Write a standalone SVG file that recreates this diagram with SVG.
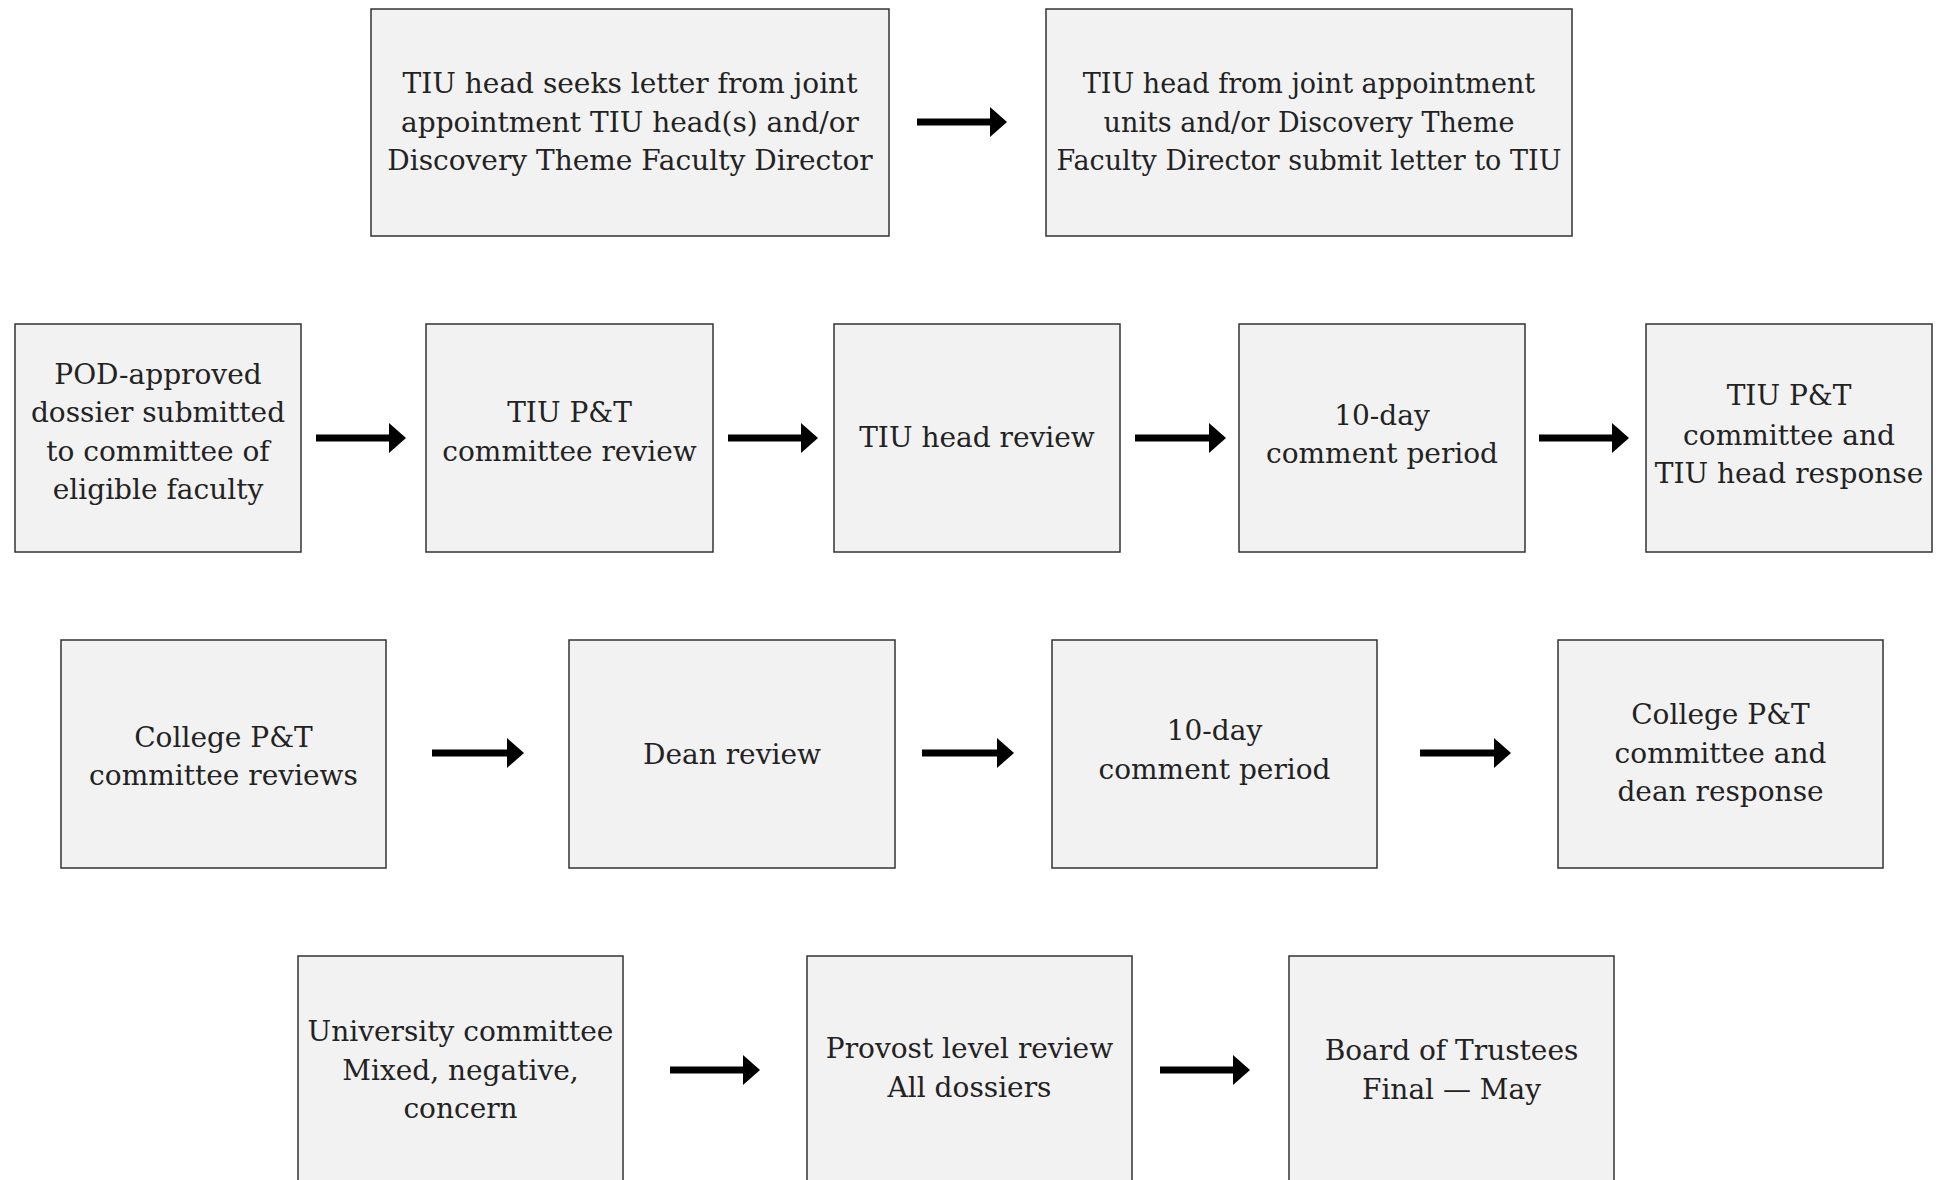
<svg xmlns="http://www.w3.org/2000/svg" width="1941" height="1180" viewBox="0 0 1941 1180">
<style>
.box{fill:#f2f2f2;stroke:#333333;stroke-width:1.5}
.t{font-family:"DejaVu Serif","Liberation Serif",serif;font-size:28px;fill:#222222;text-anchor:middle}
.s{font-size:27px}
.c{stroke:#000000;stroke-width:7;fill:none}
</style>
<defs>
<marker id="ah" markerUnits="userSpaceOnUse" markerWidth="17" markerHeight="30" viewBox="0 0 17 30" refX="0" refY="15" orient="auto">
<path d="M0,0 L17,15 L0,30 Z" fill="#000000"/>
</marker>
</defs>
<rect width="1941" height="1180" fill="#ffffff"/>
<g id="connectors">
<line class="c" x1="917" y1="122" x2="990" y2="122" marker-end="url(#ah)"/>
<line class="c" x1="316" y1="438" x2="389" y2="438" marker-end="url(#ah)"/>
<line class="c" x1="728" y1="438" x2="801" y2="438" marker-end="url(#ah)"/>
<line class="c" x1="1135" y1="438" x2="1209" y2="438" marker-end="url(#ah)"/>
<line class="c" x1="1539" y1="438" x2="1612" y2="438" marker-end="url(#ah)"/>
<line class="c" x1="432" y1="753" x2="507" y2="753" marker-end="url(#ah)"/>
<line class="c" x1="922" y1="753" x2="997" y2="753" marker-end="url(#ah)"/>
<line class="c" x1="1420" y1="753" x2="1494" y2="753" marker-end="url(#ah)"/>
<line class="c" x1="670" y1="1070" x2="743" y2="1070" marker-end="url(#ah)"/>
<line class="c" x1="1160" y1="1070" x2="1233" y2="1070" marker-end="url(#ah)"/>
</g>
<g id="n1"><rect class="box" x="371" y="9" width="518" height="227"/>
<text class="t" x="630" y="93">TIU head seeks letter from joint</text>
<text class="t" x="630" y="131.5">appointment TIU head(s) and/or</text>
<text class="t" x="630" y="170">Discovery Theme Faculty Director</text></g>
<g id="n2"><rect class="box" x="1046" y="9" width="526" height="227"/>
<text class="t s" x="1309" y="93">TIU head from joint appointment</text>
<text class="t s" x="1309" y="131.5">units and/or Discovery Theme</text>
<text class="t s" x="1309" y="170">Faculty Director submit letter to TIU</text></g>
<g id="n3"><rect class="box" x="15" y="324" width="286" height="228"/>
<text class="t" x="158" y="384">POD-approved</text>
<text class="t" x="158" y="422">dossier submitted</text>
<text class="t" x="158" y="461">to committee of</text>
<text class="t" x="158" y="499">eligible faculty</text></g>
<g id="n4"><rect class="box" x="426" y="324" width="287" height="228"/>
<text class="t" x="569.5" y="422">TIU P&amp;T</text>
<text class="t" x="569.5" y="461">committee review</text></g>
<g id="n5"><rect class="box" x="834" y="324" width="286" height="228"/>
<text class="t" x="977" y="447">TIU head review</text></g>
<g id="n6"><rect class="box" x="1239" y="324" width="286" height="228"/>
<text class="t" x="1382" y="425">10-day</text>
<text class="t" x="1382" y="463">comment period</text></g>
<g id="n7"><rect class="box" x="1646" y="324" width="286" height="228"/>
<text class="t" x="1789" y="405">TIU P&amp;T</text>
<text class="t" x="1789" y="445">committee and</text>
<text class="t" x="1789" y="483">TIU head response</text></g>
<g id="n8"><rect class="box" x="61" y="640" width="325" height="228"/>
<text class="t" x="223.5" y="747">College P&amp;T</text>
<text class="t" x="223.5" y="785">committee reviews</text></g>
<g id="n9"><rect class="box" x="569" y="640" width="326" height="228"/>
<text class="t" x="732" y="764">Dean review</text></g>
<g id="n10"><rect class="box" x="1052" y="640" width="325" height="228"/>
<text class="t" x="1214.5" y="740">10-day</text>
<text class="t" x="1214.5" y="779">comment period</text></g>
<g id="n11"><rect class="box" x="1558" y="640" width="325" height="228"/>
<text class="t" x="1720.5" y="724">College P&amp;T</text>
<text class="t" x="1720.5" y="763">committee and</text>
<text class="t" x="1720.5" y="801">dean response</text></g>
<g id="n12"><rect class="box" x="298" y="956" width="325" height="228"/>
<text class="t" x="460.5" y="1041">University committee</text>
<text class="t" x="460.5" y="1080">Mixed, negative,</text>
<text class="t" x="460.5" y="1118">concern</text></g>
<g id="n13"><rect class="box" x="807" y="956" width="325" height="228"/>
<text class="t" x="969.5" y="1058">Provost level review</text>
<text class="t" x="969.5" y="1097">All dossiers</text></g>
<g id="n14"><rect class="box" x="1289" y="956" width="325" height="228"/>
<text class="t" x="1451.5" y="1060">Board of Trustees</text>
<text class="t" x="1451.5" y="1099">Final — May</text></g>
</svg>
